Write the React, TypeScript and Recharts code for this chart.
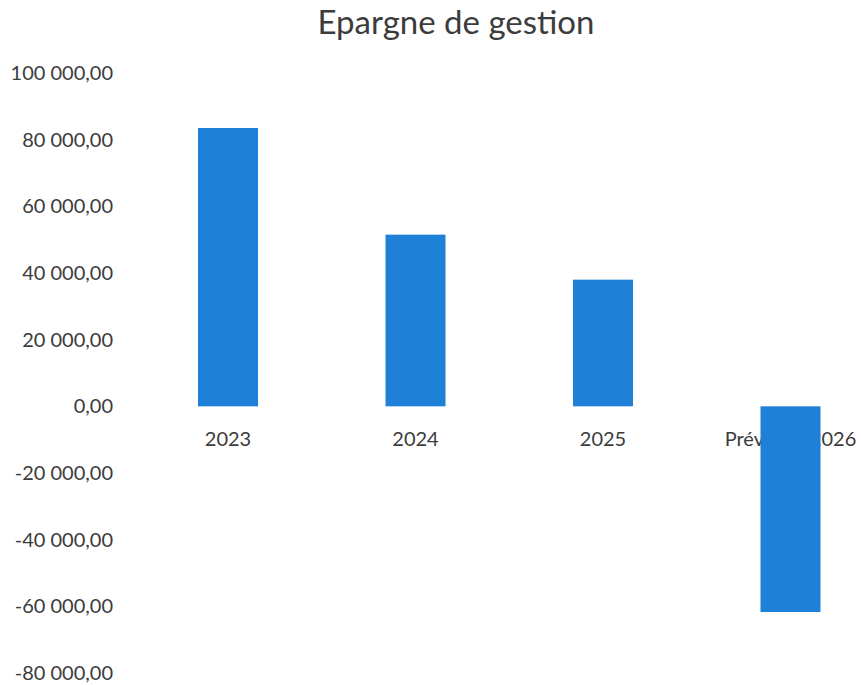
import React from 'react';
import { BarChart, Bar, XAxis, YAxis } from 'recharts';

const years = ['2023', '2024', '2025', 'Prévision 2026'];
const epargne = [83500, 51500, 38000, -61700];
const yTicks = [100000, 80000, 60000, 40000, 20000, 0, -20000, -40000, -60000, -80000];
const title = 'Epargne de gestion';

const data = years.map((year, i) => ({ year, value: epargne[i] }));

const TEXT = '#3c3c3c';
const BLUE = '#1f80d8';
const FONT = 'Lato, "Open Sans", sans-serif';

function fmt(v: number): string {
  const neg = v < 0;
  const int = Math.floor(Math.abs(v))
    .toString()
    .replace(/\B(?=(\d{3})+(?!\d))/g, ' ');
  return (neg ? '-' : '') + int + ',00';
}

const BarWithLabel = (props: any) => {
  const { x, y, width, height, payload, fill } = props;
  const top = Math.min(y, y + height);
  const bottom = Math.max(y, y + height);
  const zero = payload.value >= 0 ? bottom : top;
  return (
    <g>
      <text
        x={x + width / 2}
        y={zero + 33}
        dy="0.355em"
        textAnchor="middle"
        fill={TEXT}
        fontSize={20}
        fontFamily={FONT}
      >
        {payload.year}
      </text>
      <rect x={x} y={top} width={width} height={bottom - top} fill={fill} />
    </g>
  );
};

export default function App() {
  return (
    <div
      style={{
        position: 'absolute',
        left: 0,
        top: 0,
        width: 861,
        height: 685,
        overflow: 'hidden',
        background: '#ffffff',
      }}
    >
      <svg
        width={910}
        height={60}
        style={{ position: 'absolute', left: 0, top: 0 }}
      >
        <text x={456} y={34} textAnchor="middle" fill={TEXT} fontSize={33} fontFamily={FONT}>
          {title}
        </text>
      </svg>
      <div style={{ position: 'absolute', left: 0, top: 0 }}>
        <BarChart
          width={884}
          height={685}
          data={data}
          margin={{ top: 73, right: 0, bottom: 12, left: 0 }}
        >
          <XAxis dataKey="year" hide />
          <YAxis
            width={134}
            domain={[-80000, 100000]}
            ticks={yTicks}
            interval={0}
            axisLine={false}
            tickLine={false}
            tickSize={0}
            tickMargin={21}
            tickFormatter={fmt}
            tick={{ fill: TEXT, fontSize: 20, fontFamily: FONT }}
          />
          <Bar
            dataKey="value"
            fill={BLUE}
            barSize={60}
            shape={<BarWithLabel />}
            isAnimationActive={false}
          />
        </BarChart>
      </div>
    </div>
  );
}
